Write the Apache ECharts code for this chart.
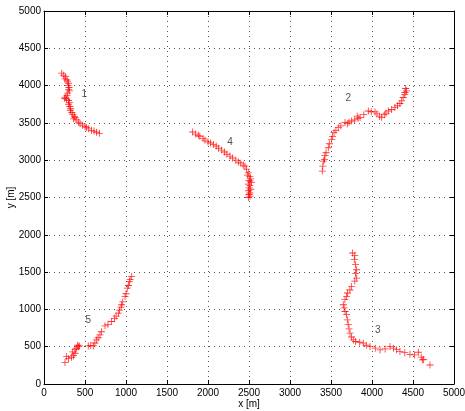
<!DOCTYPE html>
<html><head><meta charset="utf-8">
<script src="https://cdn.jsdelivr.net/npm/echarts@6/dist/echarts.min.js"></script>
<style>html,body{margin:0;padding:0;background:#fff}#c{width:465px;height:411px}</style>
</head><body><div id="c"></div>
<script>
const xTicks = [0,500,1000,1500,2000,2500,3000,3500,4000,4500,5000];
const yTicks = [0,500,1000,1500,2000,2500,3000,3500,4000,4500,5000];
const xName = 'x [m]';
const yName = 'y [m]';

const track1 = [[216,4167],[240,4140],[262,4120],[255,4090],[280,4075],[290,4050],[300,4030],[295,4000],[305,3975],[300,3950],[310,3930],[290,3900],[280,3870],[260,3845],[250,3830],[275,3820],[300,3800],[310,3775],[300,3750],[315,3720],[325,3690],[320,3665],[340,3640],[350,3610],[370,3585],[380,3570],[360,3555],[400,3540],[420,3510],[440,3490],[470,3470],[500,3450],[520,3440],[545,3420],[580,3400],[610,3390],[640,3375],[675,3360]];
const track2 = [[3394,2854],[3400,2920],[3407,2988],[3420,3010],[3427,3065],[3440,3100],[3467,3167],[3480,3220],[3508,3280],[3520,3320],[3537,3369],[3560,3400],[3589,3436],[3620,3460],[3671,3504],[3700,3490],[3720,3510],[3752,3526],[3790,3540],[3830,3560],[3854,3571],[3820,3590],[3900,3610],[3955,3660],[3990,3650],[4037,3647],[4060,3620],[4090,3590],[4118,3575],[4150,3610],[4170,3630],[4199,3660],[4240,3680],[4280,3705],[4310,3730],[4340,3760],[4362,3795],[4380,3840],[4402,3907],[4411,3961],[4400,3880],[4420,3930]];
const track3 = [[3764,1756],[3790,1720],[3784,1667],[3800,1600],[3813,1532],[3800,1480],[3813,1420],[3790,1380],[3752,1308],[3730,1260],[3700,1220],[3691,1174],[3670,1130],[3650,1062],[3660,1020],[3671,972],[3690,930],[3699,860],[3710,800],[3720,740],[3732,681],[3750,630],[3772,591],[3800,570],[3850,560],[3894,547],[3930,520],[3976,502],[4040,480],[4098,457],[4160,470],[4220,502],[4260,480],[4300,460],[4341,435],[4400,420],[4463,398],[4520,390],[4565,426],[4600,360],[4618,323],[4630,330],[4707,255]];
const track4 = [[1813,3378],[1850,3350],[1882,3333],[1900,3320],[1940,3290],[1963,3270],[2000,3245],[2030,3230],[2065,3212],[2100,3190],[2130,3160],[2167,3136],[2200,3110],[2230,3080],[2268,3055],[2300,3030],[2340,3000],[2370,2975],[2400,2960],[2430,2935],[2451,2920],[2470,2880],[2492,2831],[2480,2800],[2510,2780],[2520,2750],[2500,2730],[2512,2719],[2530,2700],[2490,2680],[2510,2660],[2500,2630],[2520,2610],[2495,2590],[2510,2560],[2500,2540],[2512,2518],[2495,2500]];
const track5 = [[256,287],[276,367],[300,340],[337,358],[360,380],[378,412],[350,430],[398,479],[380,460],[420,500],[431,511],[410,520],[540,511],[570,515],[601,511],[620,550],[642,591],[660,620],[683,659],[700,700],[744,780],[780,800],[825,838],[860,880],[880,910],[907,950],[920,990],[947,1062],[940,1030],[960,1100],[988,1174],[1000,1210],[1016,1286],[1030,1320],[1041,1375],[1069,1442],[1050,1400]];

const labelText = ['1','2','3','4','5'];
const labelX = [492,3711,4069,2268,541];
const labelY = [3884,3826,726,3243,860];

const plus = 'path://M0,4.4H10V5.6H0Z M4.4,0H5.6V10H4.4Z';
const FONT = 'Liberation Sans';

function trackSeries(d){
  return {type:'scatter', data:d, symbol:plus, symbolSize:7, itemStyle:{color:'#ff0000'}, silent:true, animation:false, xAxisIndex:0, yAxisIndex:0};
}

const chart = echarts.init(document.getElementById('c'), null, {renderer:'canvas'});
const baseAxis = {
  min:0, max:5000, interval:500,
  axisLine:{show:true, onZero:false, lineStyle:{color:'#000', width:1}},
  axisTick:{show:true, inside:true, length:4, lineStyle:{color:'#000'}},
};
chart.setOption({
  animation:false,
  grid:{left:44, right:11, top:11, bottom:27, containLabel:false, outerBoundsMode:'none'},
  xAxis:[
    Object.assign({}, baseAxis, {type:'value', position:'bottom', name:xName, nameLocation:'middle', nameGap:15, nameMoveOverlap:false,
      nameTextStyle:{fontFamily:FONT, fontSize:10, color:'#000'},
      axisLabel:{fontFamily:FONT, fontSize:10, color:'#000', margin:4, formatter:v=>xTicks.includes(v)?String(v):''},
      splitLine:{show:true, lineStyle:{color:'#555', type:[1,4], width:1}}}),
    Object.assign({}, baseAxis, {type:'value', position:'top', axisLabel:{show:false}, splitLine:{show:false}})
  ],
  yAxis:[
    Object.assign({}, baseAxis, {type:'value', position:'left', name:yName, nameLocation:'middle', nameGap:28, nameRotate:90, nameMoveOverlap:false,
      nameTextStyle:{fontFamily:FONT, fontSize:10, color:'#000'},
      axisLabel:{fontFamily:FONT, fontSize:10, color:'#000', margin:3, formatter:v=>yTicks.includes(v)?String(v):''},
      splitLine:{show:true, lineStyle:{color:'#555', type:[1,4], width:1}}}),
    Object.assign({}, baseAxis, {type:'value', position:'right', axisLabel:{show:false}, splitLine:{show:false}})
  ],
  series:[
    trackSeries(track1), trackSeries(track2), trackSeries(track3), trackSeries(track4), trackSeries(track5),
    {type:'scatter', symbolSize:0, silent:true,
     data: labelText.map((t,i)=>({name:t, value:[labelX[i], labelY[i]]})),
     label:{show:true, position:'inside', formatter:'{b}', fontFamily:FONT, fontSize:10, color:'#222'}}
  ]
});
</script></body></html>
